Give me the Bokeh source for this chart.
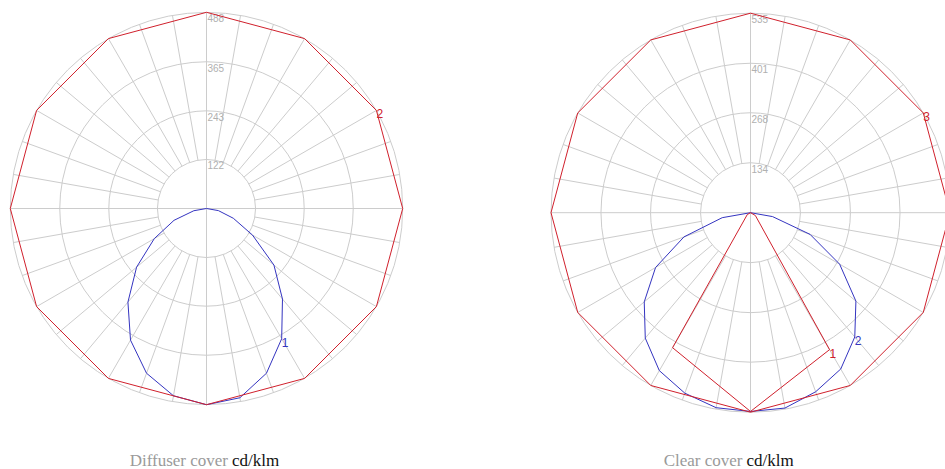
import numpy as np
from bokeh.plotting import figure
from bokeh.layouts import row
from bokeh.models import Range1d
from bokeh.embed import file_html
from bokeh.resources import INLINE
from bokeh.core.properties import value

# ---------------- data ----------------
gamma_10 = [0, 10, 20, 30, 40, 50, 60, 70, 80, 90, 100, 110, 120, 130, 140, 150, 160, 170, 180]
gamma_30 = [0, 30, 60, 90, 120, 150, 180]

# Diffuser cover (cd/klm)
diffuser_max = 488
diffuser_ticks = [122, 243, 365, 488]
diffuser_c1_right = [488, 478, 436, 374, 294, 219, 132, 71, 30, 0, 0, 0, 0, 0, 0, 0, 0, 0, 0]
diffuser_c1_left = [488, 473, 436, 378, 304, 227, 150, 86, 32, 0, 0, 0, 0, 0, 0, 0, 0, 0, 0]
diffuser_c2_right = [488, 488, 488, 488, 488, 488, 488]
diffuser_c2_left = [488, 488, 488, 488, 488, 488, 488]

# Clear cover (cd/klm)
clear_max = 535
clear_ticks = [134, 268, 401, 535]
clear_c1_right = [533, 424, 15, 0, 0, 0, 0]
clear_c1_left = [533, 418, 10, 0, 0, 0, 0]
clear_c2_right = [533, 532, 511, 484, 435, 369, 276, 170, 60, 0, 0, 0, 0, 0, 0, 0, 0, 0, 0]
clear_c2_left = [533, 531, 515, 489, 439, 372, 294, 190, 77, 0, 0, 0, 0, 0, 0, 0, 0, 0, 0]
clear_c3_right = [535, 535, 535, 535, 535, 535, 535]
clear_c3_left = [535, 535, 535, 535, 535, 535, 535]

caption_grey = ["Diffuser cover", "Clear cover"]
caption_unit = "cd/klm"

# ---------------- style ----------------
RED = "#d0202c"
BLUE = "#3434c0"
GRID = "#cccccc"
TICK = "#b0b0b0"
H = 469


def polar_xy(gammas, right, left):
    g = [-a for a in reversed(gammas)] + list(gammas[1:])
    v = list(reversed(left)) + list(right[1:])
    rad = np.radians(g)
    v = np.array(v, dtype=float)
    return v * np.sin(rad), -v * np.cos(rad)


def make_chart(width, cx, cy, radius, vmax, ticks, curves, labels, cap_grey, split_px):
    s = radius / vmax
    p = figure(width=width, height=H,
               x_range=Range1d(-cx / s, (width - cx) / s),
               y_range=Range1d(-(H - cy) / s, cy / s),
               x_axis_type=None, y_axis_type=None,
               output_backend="svg", toolbar_location=None,
               min_border=0, outline_line_color=None,
               background_fill_color="white", border_fill_color="white")
    # rings
    p.circle(x=[0] * len(ticks), y=[0] * len(ticks), radius=ticks,
             fill_color=None, line_color=GRID, line_width=1)
    # radial lines
    x0, y0, x1, y1 = [], [], [], []
    for a in range(0, 360, 10):
        r0 = 0 if a % 90 == 0 else vmax / 4
        t = np.radians(a)
        x0.append(r0 * np.sin(t)); y0.append(r0 * np.cos(t))
        x1.append(vmax * np.sin(t)); y1.append(vmax * np.cos(t))
    p.segment(x0=x0, y0=y0, x1=x1, y1=y1, line_color=GRID, line_width=1)
    # tick labels
    p.text(x=[0] * len(ticks), y=ticks, text=[str(t) for t in ticks],
           x_offset=1, y_offset=2, text_align="left", text_baseline="top",
           text_font=value("Liberation Sans"), text_font_size="10px", text_color=TICK)
    # curves
    for gammas, right, left, color in curves:
        x, y = polar_xy(gammas, right, left)
        p.line(x, y, line_color=color, line_width=1)
    # curve labels
    for txt, gammas, right, ang, color in labels:
        i = gammas.index(ang)
        t = np.radians(ang)
        lx = right[i] * np.sin(t)
        ly = -right[i] * np.cos(t)
        p.text(x=[lx], y=[ly], text=[txt], x_offset=0, y_offset=-1,
               text_align="left", text_baseline="top",
               text_font=value("Liberation Sans"), text_font_size="12px", text_color=color)
    # caption
    cap_y = (cy - 460) / s
    sx = split_px / s
    p.text(x=[sx - 2 / s], y=[cap_y], text=[cap_grey], text_align="right",
           text_baseline="alphabetic", text_font=value("Liberation Serif"),
           text_font_size="17px", text_color="#9a9a9a")
    p.text(x=[sx + 2 / s], y=[cap_y], text=[caption_unit], text_align="left",
           text_baseline="alphabetic", text_font=value("Liberation Serif"),
           text_font_size="17px", text_color="#111111")
    return p


left = make_chart(
    473, 206, 208, 196.2, diffuser_max, diffuser_ticks,
    [(gamma_10, diffuser_c1_right, diffuser_c1_left, BLUE),
     (gamma_30, diffuser_c2_right, diffuser_c2_left, RED)],
    [("1", gamma_10, diffuser_c1_right, 30, BLUE),
     ("2", gamma_30, diffuser_c2_right, 120, RED)],
    caption_grey[0], 23.5)

right = make_chart(
    472, 277, 212.2, 199.5, clear_max, clear_ticks,
    [(gamma_10, clear_c2_right, clear_c2_left, BLUE),
     (gamma_30, clear_c3_right, clear_c3_left, RED),
     (gamma_30, clear_c1_right, clear_c1_left, RED)],
    [("1", gamma_30, clear_c1_right, 30, RED),
     ("2", gamma_10, clear_c2_right, 40, BLUE),
     ("3", gamma_30, clear_c3_right, 120, RED)],
    caption_grey[1], -6)

layout = row(left, right)
open("out.html", "w").write(file_html(layout, INLINE))
